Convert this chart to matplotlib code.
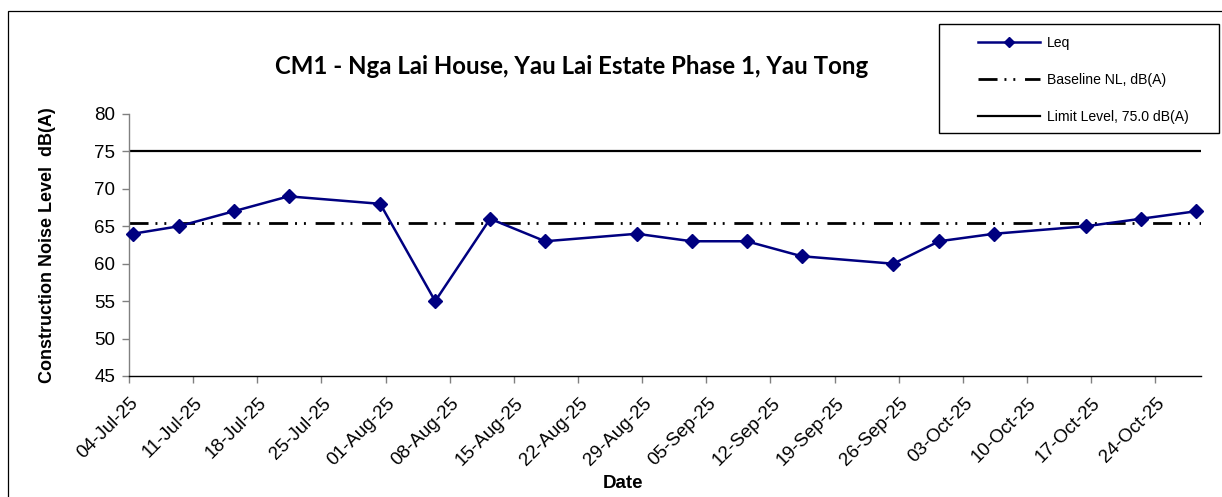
import matplotlib
matplotlib.use("Agg")
import matplotlib.pyplot as plt
import matplotlib.dates as mdates
import matplotlib.transforms as mtransforms
from matplotlib.patches import Rectangle
from matplotlib.lines import Line2D
import pandas as pd

dates = ['2025-07-04 10:00', '2025-07-09 10:00', '2025-07-15 10:00', '2025-07-21 10:00',
         '2025-07-31 10:00', '2025-08-06 10:00', '2025-08-12 10:00', '2025-08-18 10:00',
         '2025-08-28 10:00', '2025-09-03 10:00', '2025-09-09 10:00', '2025-09-15 10:00',
         '2025-09-25 10:00', '2025-09-30 10:00', '2025-10-06 10:00', '2025-10-16 10:00',
         '2025-10-22 10:00', '2025-10-28 10:00']
leq = [64, 65, 67, 69, 68, 55, 66, 63, 64, 63, 63, 61, 60, 63, 64, 65, 66, 67]
baseline = 65.5
limit = 75.0
x_start, x_end = '2025-07-04', '2025-10-29'
tick_dates = pd.date_range('2025-07-04', '2025-10-24', freq='7D')
y_ticks = [45, 50, 55, 60, 65, 70, 75, 80]

title = 'CM1 - Nga Lai House, Yau Lai Estate Phase 1, Yau Tong'
labels = ['Leq', 'Baseline NL, dB(A)', 'Limit Level, 75.0 dB(A)']

plt.rcParams['font.family'] = ['Liberation Sans', 'DejaVu Sans']
plt.rcParams['lines.scale_dashes'] = False

W, H = 1222, 497
fig = plt.figure(figsize=(W / 100, H / 100), dpi=100)
ax = fig.add_axes([129 / W, 1 - 376 / H, (1201 - 129) / W, (376 - 114) / H])

x = pd.to_datetime(dates)
xs = pd.to_datetime([x_start, x_end])
navy = '#000080'
dashdotdot = (0, (13.7, 5, 1.4, 5, 1.4, 7))

ax.plot(xs, [limit, limit], color='black', lw=1.6, solid_capstyle='butt')
ax.plot(xs, [baseline, baseline], color='black', lw=2.0, linestyle=dashdotdot)
ax.plot(x, leq, color=navy, lw=1.8, marker='D', markersize=7.5, markeredgecolor=navy,
        markerfacecolor=navy, clip_on=False, zorder=5)

ax.set_xlim(xs[0], xs[1])
ax.set_ylim(45, 80)
ax.set_yticks(y_ticks)
ax.set_xticks(tick_dates)
ax.xaxis.set_major_formatter(mdates.DateFormatter('%d-%b-%y'))

for s in ['top', 'right']:
    ax.spines[s].set_visible(False)
ax.spines['left'].set_color('#808080')
ax.spines['bottom'].set_color('black')
ax.spines['left'].set_linewidth(1.0)
ax.spines['bottom'].set_linewidth(1.0)
ax.tick_params(axis='y', colors='#808080', length=5, width=1, labelsize=13.5, labelcolor='black', pad=5)
ax.tick_params(axis='x', colors='#808080', length=5, width=1, labelsize=13.5, labelcolor='black', pad=2)
shift = mtransforms.ScaledTranslation(0.07, -0.15, fig.dpi_scale_trans)
for lab in ax.get_xticklabels():
    lab.set_rotation(45)
    lab.set_ha('right')
    lab.set_va('center')
    lab.set_rotation_mode('anchor')
    lab.set_transform(lab.get_transform() + shift)

ax.set_ylabel('Construction Noise Level  dB(A)', fontsize=13, fontweight='bold')
ax.yaxis.set_label_coords(-73 / (1201 - 129), 0.5)
fig.text(623 / W, 1 - 483 / H, 'Date', fontsize=13.5, fontweight='bold', ha='center', va='center')

fig.text(572 / W, 1 - 66 / H, title, fontsize=17.3, fontweight='bold', ha='center', va='center',
         family=['Lato', 'DejaVu Sans'])

# outer chart border (cut off at right and bottom)
fig.patches.append(Rectangle((8 / W, -0.1), 1.2, 1.1 - 11 / H, transform=fig.transFigure,
                             fill=False, edgecolor='black', lw=0.9))
# legend box
fig.patches.append(Rectangle((939 / W, 1 - 133 / H), (1219 - 939) / W, (133 - 24) / H,
                             transform=fig.transFigure, fill=False, edgecolor='black', lw=1.0))

handles = [
    Line2D([], [], color=navy, lw=1.8, marker='D', markersize=5, markerfacecolor=navy),
    Line2D([], [], color='black', lw=2.0, linestyle=dashdotdot),
    Line2D([], [], color='black', lw=1.6),
]
fig.legend(handles, labels, loc='upper left', bbox_to_anchor=(978 / W, 1 - 36 / H),
           frameon=False, fontsize=10.1, handlelength=4.4, handletextpad=0.5,
           labelspacing=1.65, borderpad=0, borderaxespad=0)

fig.savefig('out.png', dpi=100)
